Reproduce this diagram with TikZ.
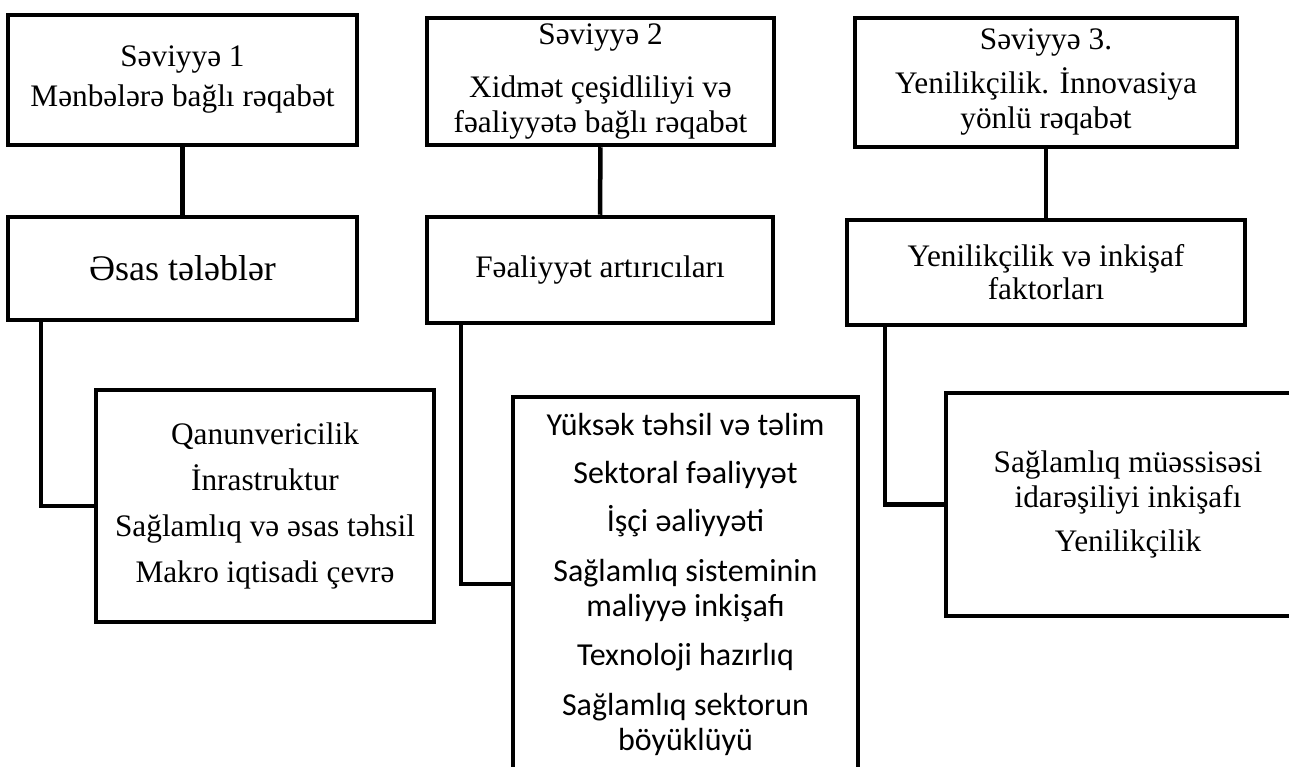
\documentclass[tikz,border=0pt]{standalone}
\usepackage{fontspec}
\setmainfont{Liberation Serif}
\newfontfamily\calfont{Carlito}
\usetikzlibrary{positioning,calc}

\begin{document}
\begin{tikzpicture}[x=1pt, y=-1pt,
  box/.style={rectangle, draw, line width=4.5pt, inner sep=0pt, align=center, font=\fontsize{31.3}{35}\selectfont},
  sansbox/.style={box, font=\calfont\fontsize{32}{35}\selectfont},
  wire/.style={line width=4.5pt}]
  \useasboundingbox (0,0) rectangle (1289,767);
  % Saviyya 1
  \node (a1) at (182.5,80) [box, minimum width=349pt, minimum height=130pt] {Səviyyə 1\\[5pt] Mənbələrə bağlı rəqabət};
  \node (a2) at (182.5,268.5) [box, minimum width=349pt, minimum height=103pt, font=\fontsize{36}{40}\selectfont] {Əsas tələblər};
  \node (a3) at (265,506) [box, minimum width=338pt, minimum height=232pt] {Qanunvericilik\\[11pt] İnrastruktur\\[11pt] Sağlamlıq və əsas təhsil\\[11pt] Makro iqtisadi çevrə};
  % Saviyya 2
  \node (b1) at (600.5,81.5) [box, minimum width=347pt, minimum height=127pt] {Səviyyə 2\\[18pt] Xidmət çeşidliliyi və\\ fəaliyyətə bağlı rəqabət};
  \node (b2) at (600,270) [box, minimum width=346pt, minimum height=106pt] {Fəaliyyət artırıcıları};
  \node (b3) at (685.5,584) [sansbox, minimum width=345pt, minimum height=374pt] {Yüksək təhsil və təlim\\[13pt] Sektoral fəaliyyət\\[13pt] İşçi əaliyyəti\\[15pt] Sağlamlıq sisteminin\\ maliyyə inkişafı\\[14pt] Texnoloji hazırlıq\\[15pt] Sağlamlıq sektorun\\ böyüklüyü};
  % Saviyya 3
  \node (c1) at (1046,82.5) [box, minimum width=382pt, minimum height=129pt] {Səviyyə 3.\\[9pt] Yenilikçilik. İnnovasiya\\ yönlü rəqabət};
  \node (c2) at (1046,272.5) [box, minimum width=398pt, minimum height=105pt] {Yenilikçilik və inkişaf\\[-2pt] faktorları};
  \node (c3) at (1128,504.5) [box, minimum width=364pt, minimum height=223pt] {Sağlamlıq müəssisəsi\\ idarəşiliyi inkişafı\\[9pt] Yenilikçilik};

  \draw[wire] (a1) -- (a2);
  \draw[wire] (b1) -- (b2);
  \draw[wire] (c1) -- (c2);
  \draw[wire] ([xshift=35pt]a2.south west) |- (a3.west);
  \draw[wire] ([xshift=36pt]b2.south west) |- (b3.west);
  \draw[wire] ([xshift=40pt]c2.south west) |- (c3.west);
\end{tikzpicture}
\end{document}
